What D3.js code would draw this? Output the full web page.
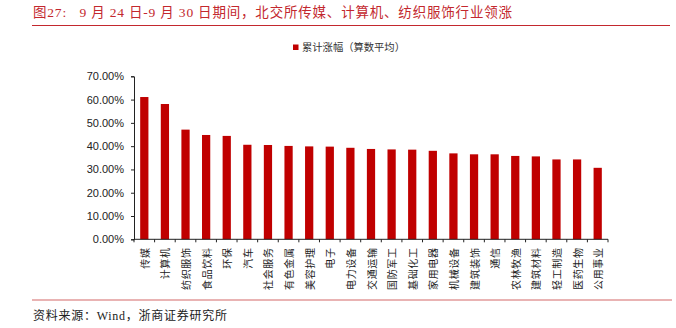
<!DOCTYPE html>
<html>
<head>
<meta charset="utf-8">
<script src="https://cdn.jsdelivr.net/npm/d3@7/dist/d3.min.js"></script>
<style>
  html, body { margin: 0; padding: 0; background: #fff; }
  svg { display: block; }
  .pre { white-space: pre; }
</style>
</head>
<body>
<svg id="chart" width="676" height="328"></svg>
<script>
// Industry names (北交所 industries, 9/24 - 9/30)
const categories = ["传媒", "计算机", "纺织服饰", "食品饮料", "环保", "汽车", "社会服务", "有色金属",
  "美容护理", "电子", "电力设备", "交通运输", "国防军工", "基础化工", "家用电器", "机械设备",
  "建筑装饰", "通信", "农林牧渔", "建筑材料", "轻工制造", "医药生物", "公用事业"];
// Cumulative gain, arithmetic mean (%)
const gains = [61.1, 58.1, 47.1, 44.8, 44.4, 40.6, 40.5, 40.1, 39.9, 39.8, 39.3, 38.8, 38.6, 38.5,
  38.0, 36.9, 36.5, 36.5, 35.8, 35.6, 34.3, 34.3, 30.7];
const yTicks = [0, 10, 20, 30, 40, 50, 60, 70];
const seriesName = "累计涨幅（算数平均）";
const titleText = "图27:   9 月 24 日-9 月 30 日期间，北交所传媒、计算机、纺织服饰行业领涨";
const sourceText = "资料来源：Wind，浙商证券研究所";

const svg = d3.select("#chart");
const cjk = "'Noto Sans CJK SC', 'Noto Sans', sans-serif";
const mixed = "'Liberation Serif', 'Noto Sans CJK SC', serif";
const red = "#c00000";

// Title and rule
svg.append("text")
  .attr("class", "pre")
  .attr("x", 33).attr("y", 17)
  .attr("font-family", mixed).attr("font-size", 13.5)
  .attr("fill", "#c3282e")
  .attr("textLength", 479).attr("lengthAdjust", "spacing")
  .text(titleText);
svg.append("line")
  .attr("x1", 32).attr("x2", 670).attr("y1", 25.5).attr("y2", 25.5)
  .attr("stroke", "#c3282e").attr("stroke-width", 1);

// Legend
svg.append("rect").attr("x", 293).attr("y", 44.5).attr("width", 5.5).attr("height", 5.5).attr("fill", red);
svg.append("text")
  .attr("x", 302).attr("y", 51)
  .attr("font-family", cjk).attr("font-size", 10.3)
  .attr("fill", "#333")
  .text(seriesName);

// Plot area
const plotLeft = 134, plotRight = 608, plotTop = 76.3, plotBottom = 239.3;

const xb = d3.scaleBand().domain(categories).range([plotLeft, plotRight]).padding(0);
const x = d3.scaleBand().domain(categories).range([plotLeft, plotRight]).paddingInner(0.6).paddingOuter(0.3);
const y = d3.scaleLinear().domain([0, 70]).range([plotBottom, plotTop]);

// Bars
svg.append("g").selectAll("rect")
  .data(categories)
  .join("rect")
  .attr("x", d => x(d))
  .attr("width", x.bandwidth())
  .attr("y", (d, i) => y(gains[i]))
  .attr("height", (d, i) => plotBottom - y(gains[i]))
  .attr("fill", red);

// Y axis
const yAxis = svg.append("g")
  .attr("transform", `translate(${plotLeft},0)`)
  .call(d3.axisLeft(y).tickValues(yTicks).tickSize(3).tickPadding(7)
    .tickFormat(d => d3.format(".2f")(d) + "%"));
yAxis.select(".domain").attr("stroke", "#222");
yAxis.selectAll(".tick line").attr("stroke", "#222");
yAxis.selectAll("text")
  .attr("font-family", "'Liberation Sans', Arial, sans-serif")
  .attr("font-size", 11).attr("fill", "#222");

// X axis: ticks between categories
const xg = svg.append("g");
xg.append("line")
  .attr("x1", plotLeft).attr("x2", plotRight).attr("y1", plotBottom).attr("y2", plotBottom)
  .attr("stroke", "#222");
const boundaries = categories.map(d => xb(d)).concat([plotRight]);
xg.selectAll("line.tk")
  .data(boundaries)
  .join("line")
  .attr("class", "tk")
  .attr("x1", d => d).attr("x2", d => d)
  .attr("y1", plotBottom).attr("y2", plotBottom + 3)
  .attr("stroke", "#222");

// Category labels, rotated to read bottom-to-top
xg.selectAll("text")
  .data(categories)
  .join("text")
  .attr("transform", d => `translate(${xb(d) + xb.bandwidth() / 2},${247.5}) rotate(-90)`)
  .attr("text-anchor", "end")
  .attr("dominant-baseline", "central")
  .attr("font-family", cjk).attr("font-size", 10)
  .attr("letter-spacing", 0.6)
  .attr("fill", "#222")
  .text(d => d);

// Footer rule and source
svg.append("line")
  .attr("x1", 32).attr("x2", 672).attr("y1", 300).attr("y2", 300)
  .attr("stroke", "#e29a9a").attr("stroke-width", 1.5);
svg.append("text")
  .attr("x", 33).attr("y", 320)
  .attr("font-family", mixed).attr("font-size", 12)
  .attr("fill", "#222")
  .attr("textLength", 194).attr("lengthAdjust", "spacing")
  .text(sourceText);
</script>
</body>
</html>
